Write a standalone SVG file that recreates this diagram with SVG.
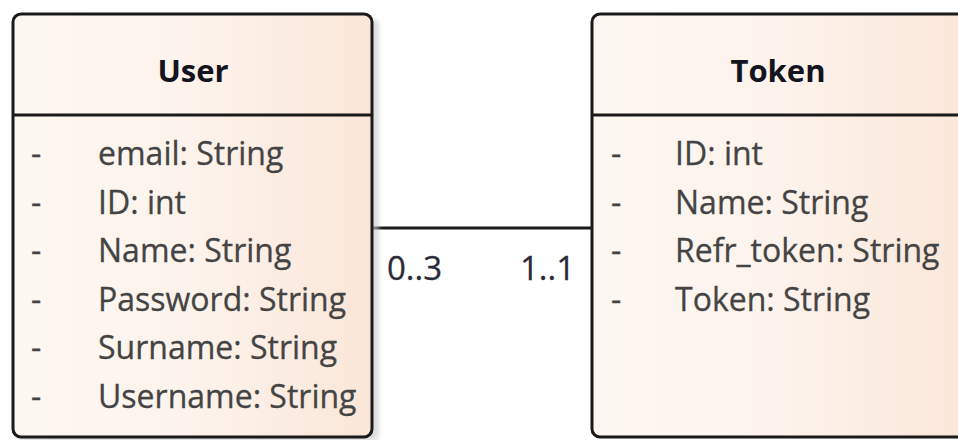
<svg xmlns="http://www.w3.org/2000/svg" width="958" height="440" viewBox="0 0 958 440">
<defs>
<linearGradient id="fill" x1="0" y1="0" x2="1" y2="0">
<stop offset="0" stop-color="#fdf7f2"/>
<stop offset="0.5" stop-color="#fdf3ec"/>
<stop offset="1" stop-color="#fae6d8"/>
</linearGradient>
<filter id="sh" x="-5%" y="-5%" width="115%" height="115%">
<feGaussianBlur stdDeviation="2"/>
</filter>
<style>
.box{fill:url(#fill);stroke:#1a1a1a;stroke-width:3}
.shadow{fill:#c8c8c8;opacity:0.6}
.div{stroke:#1a1a1a;stroke-width:3}
.title{font-family:"Open Sans",sans-serif;font-weight:bold;font-size:31px;fill:#141420;text-anchor:middle}
.attr{font-family:"Open Sans",sans-serif;font-size:32px;fill:#444444;stroke:#444444;stroke-width:0.3}
.lbl{font-family:"Open Sans",sans-serif;font-size:33px;fill:#2a2a38;stroke:#2a2a38;stroke-width:0.3}
.conn{stroke:#1a1a1a;stroke-width:3;fill:none}
</style>
</defs>
<rect width="958" height="440" fill="#ffffff"/>
<g id="connectors">
<line class="conn" x1="373" y1="228" x2="592" y2="228"/>
<text class="lbl" x="387" y="280">0..3</text>
<text class="lbl" x="520" y="280">1..1</text>
</g>
<g id="User">
<rect class="shadow" x="17" y="18" width="362" height="424" rx="8" filter="url(#sh)"/>
<rect class="box" x="13" y="14" width="359" height="423" rx="8"/>
<line class="div" x1="13" y1="115" x2="372" y2="115"/>
<text class="title" x="193" y="82">User</text>
<g class="attr">
<text x="31" y="165">-</text><text x="98" y="165">email: String</text>
<text x="31" y="213.5">-</text><text x="98" y="213.5">ID: int</text>
<text x="31" y="262">-</text><text x="98" y="262">Name: String</text>
<text x="31" y="310.5">-</text><text x="98" y="310.5">Password: String</text>
<text x="31" y="359">-</text><text x="98" y="359">Surname: String</text>
<text x="31" y="407.5">-</text><text x="98" y="407.5">Username: String</text>
</g>
</g>
<g id="Token">
<rect class="box" x="592" y="14" width="380" height="423" rx="8"/>
<line class="div" x1="592" y1="115" x2="958" y2="115"/>
<text class="title" x="778" y="82">Token</text>
<g class="attr">
<text x="611" y="165">-</text><text x="675" y="165">ID: int</text>
<text x="611" y="213.5">-</text><text x="675" y="213.5">Name: String</text>
<text x="611" y="262">-</text><text x="675" y="262">Refr_token: String</text>
<text x="611" y="310.5">-</text><text x="675" y="310.5">Token: String</text>
</g>
</g>
</svg>
